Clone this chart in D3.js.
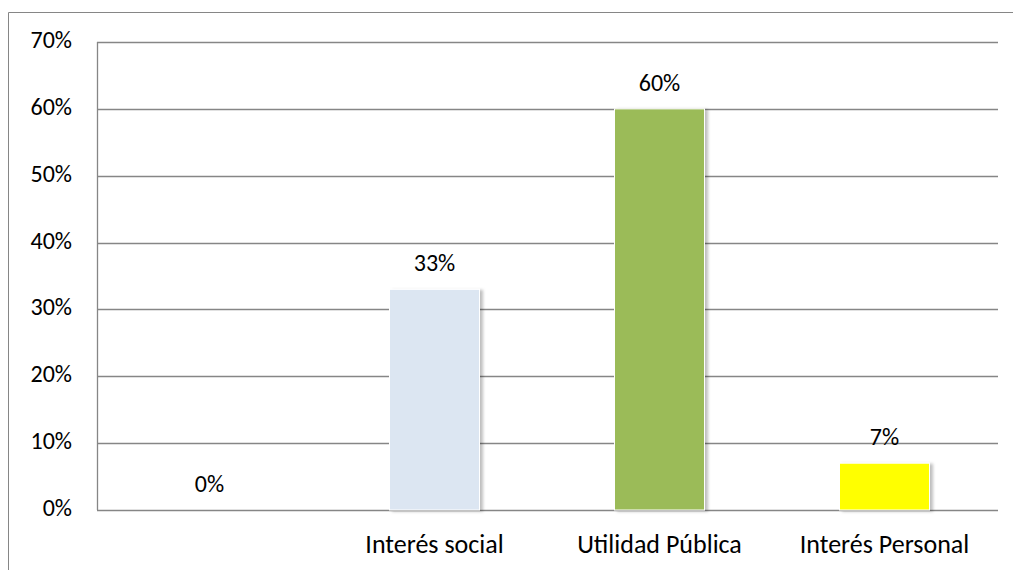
<!DOCTYPE html>
<html>
<head>
<meta charset="utf-8">
<script src="https://cdn.jsdelivr.net/npm/d3@7"></script>
<style>
  body { margin: 0; background: #fff; }
  svg text { font-family: Carlito, Lato, "Open Sans", sans-serif; fill: #000; }
</style>
</head>
<body>
<svg id="chart"></svg>
<script>
var w = 1013;
var h = 570;

// data
var categories = ["", "Interés social", "Utilidad Pública", "Interés Personal"];
var values = [0, 0.33, 0.60, 0.07];
var barColors = ["#dce6f2", "#dce6f2", "#9bbb59", "#ffff00"];
var yTicks = [0, 0.1, 0.2, 0.3, 0.4, 0.5, 0.6, 0.7];

var margin = { left: 97, right: 15, top: 42, bottom: 60 };

var svg = d3.select("#chart")
	.attr("width", w)
	.attr("height", h);

// soft shadow like the original bars
var defs = svg.append("defs");
var f = defs.append("filter").attr("id", "shadow")
	.attr("x", "-10%").attr("y", "-10%").attr("width", "130%").attr("height", "130%");
f.append("feDropShadow")
	.attr("dx", 3).attr("dy", 1)
	.attr("stdDeviation", 1.5)
	.attr("flood-color", "#000")
	.attr("flood-opacity", 0.25);

// outer chart frame (only top and left show)
svg.append("path")
	.attr("d", "M8.5," + h + " V12.5 H" + w)
	.attr("fill", "none")
	.attr("stroke", "#868686")
	.attr("stroke-width", 1);

var x = d3.scaleBand()
	.domain(categories.map((d, i) => i))
	.range([margin.left, w - margin.right - 1])
	.paddingInner(0.6)
	.paddingOuter(0.3);

var y = d3.scaleLinear()
	.domain([0, 0.7])
	.range([h - margin.bottom, margin.top]);

// grid lines
svg.append("g")
	.selectAll("line")
	.data(yTicks)
	.enter().append("line")
	.attr("x1", margin.left)
	.attr("x2", w - margin.right)
	.attr("y1", d => Math.round(y(d)) + 0.5)
	.attr("y2", d => Math.round(y(d)) + 0.5)
	.attr("stroke", "#868686")
	.attr("stroke-width", 1.3);

// y axis line
svg.append("line")
	.attr("x1", margin.left + 0.5).attr("x2", margin.left + 0.5)
	.attr("y1", y(0.7)).attr("y2", y(0))
	.attr("stroke", "#868686")
	.attr("stroke-width", 1.3);

// y tick labels
svg.append("g")
	.selectAll("text")
	.data(yTicks)
	.enter().append("text")
	.attr("x", 72)
	.attr("y", d => y(d) + 6)
	.attr("text-anchor", "end")
	.attr("font-size", 24)
	.text(d3.format(".0%"));

// bars
svg.append("g")
	.selectAll("rect")
	.data(values)
	.enter().append("rect")
	.attr("x", (d, i) => x(i))
	.attr("width", x.bandwidth())
	.attr("y", d => y(d))
	.attr("height", d => y(0) - y(d))
	.attr("fill", (d, i) => barColors[i])
	.attr("stroke", "#fff")
	.attr("stroke-width", 1)
	.attr("filter", "url(#shadow)");

// value labels
svg.append("g")
	.selectAll("text")
	.data(values)
	.enter().append("text")
	.attr("x", (d, i) => x(i) + x.bandwidth() / 2)
	.attr("y", d => y(d) - 18)
	.attr("text-anchor", "middle")
	.attr("font-size", 24)
	.text(d3.format(".0%"));

// category labels
svg.append("g")
	.selectAll("text")
	.data(categories)
	.enter().append("text")
	.attr("x", (d, i) => x(i) + x.bandwidth() / 2)
	.attr("y", y(0) + 43)
	.attr("text-anchor", "middle")
	.attr("font-size", 26)
	.text(d => d);
</script>
</body>
</html>
